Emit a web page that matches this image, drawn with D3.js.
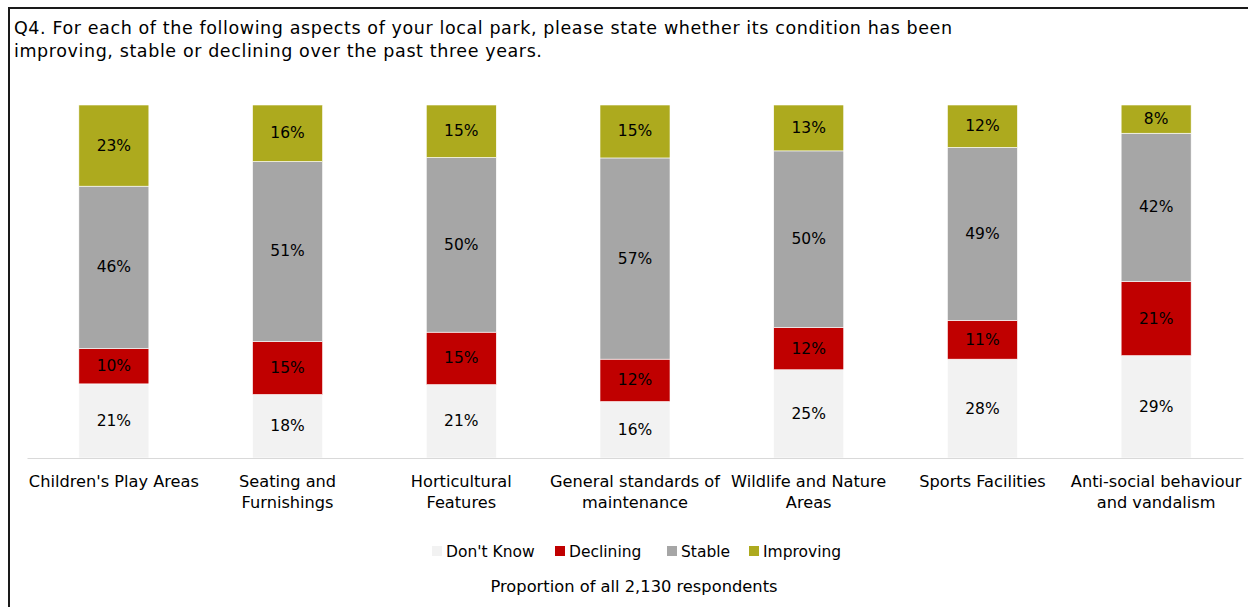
<!DOCTYPE html>
<html><head><meta charset="utf-8">
<script src="https://cdn.jsdelivr.net/npm/d3@7"></script>
<style>
html,body{margin:0;padding:0;background:#fff;}
svg{display:block;}
text{font-family:"DejaVu Sans",sans-serif;fill:#000;}
</style></head>
<body>
<svg id="chart" width="1248" height="607"></svg>
<script>
const titleLines = [
  "Q4. For each of the following aspects of your local park, please state whether its condition has been",
  "improving, stable or declining over the past three years."
];
const categories = [
  "Children's Play Areas",
  "Seating and\nFurnishings",
  "Horticultural\nFeatures",
  "General standards of\nmaintenance",
  "Wildlife and Nature\nAreas",
  "Sports Facilities",
  "Anti-social behaviour\nand vandalism"
];
const seriesNames = ["Don't Know", "Declining", "Stable", "Improving"];
const dontKnow  = [21, 18, 21, 16, 25, 28, 29];
const declining = [10, 15, 15, 12, 12, 11, 21];
const stable    = [46, 51, 50, 57, 50, 49, 42];
const improving = [23, 16, 15, 15, 13, 12, 8];
const colors = ["#f2f2f2", "#c00000", "#a6a6a6", "#adaa1e"];
const caption = "Proportion of all 2,130 respondents";

const seriesValues = [dontKnow, declining, stable, improving];
const table = categories.map((c, i) => {
  const row = {cat: c};
  seriesNames.forEach((s, j) => row[s] = seriesValues[j][i]);
  return row;
});

const svg = d3.select("#chart");
const W = 1248, H = 607;

// frame
svg.append("rect").attr("x", 9).attr("y", 8).attr("width", W + 10).attr("height", H + 10)
  .attr("fill", "none").attr("stroke", "#1a1a1a").attr("stroke-width", 2);

// title
svg.append("g").selectAll("text").data(titleLines).join("text")
  .attr("x", 14).attr("y", (d, i) => 34 + i * 23)
  .style("font-size", "17.5px").style("letter-spacing", "0.6px").text(d => d);

const x = d3.scaleBand().domain(categories).range([27, 1243]).paddingInner(0.597).paddingOuter(0.2985);
const y = d3.scaleLinear().domain([0, 1]).range([458, 105]);

const stack = d3.stack().keys(seriesNames).offset(d3.stackOffsetExpand);
const stacked = stack(table);

const layers = svg.append("g").selectAll("g").data(stacked).join("g")
  .attr("fill", (d, i) => colors[i]);

layers.selectAll("rect").data(d => d).join("rect")
  .attr("x", d => x(d.data.cat))
  .attr("width", x.bandwidth())
  .attr("y", d => y(d[1]))
  .attr("height", d => y(d[0]) - y(d[1]))
  .attr("stroke", "#ffffff").attr("stroke-width", 0.6);

// baseline axis
const xAxis = d3.axisBottom(x).tickSize(0).tickFormat("");
const axG = svg.append("g").attr("transform", "translate(0,458)").call(xAxis);
axG.select(".domain").attr("stroke", "#d9d9d9").attr("stroke-width", 1);

// value labels
stacked.forEach((layer, li) => {
  svg.append("g").selectAll("text").data(layer).join("text")
    .attr("x", d => x(d.data.cat) + x.bandwidth() / 2)
    .attr("y", d => (y(d[0]) + y(d[1])) / 2)
    .attr("text-anchor", "middle").attr("dominant-baseline", "central")
    .style("font-size", "15.5px")
    .text(d => d.data[layer.key] + "%");
});

// category labels
const catG = svg.append("g");
categories.forEach(c => {
  const lines = c.split("\n");
  const t = catG.append("text").attr("text-anchor", "middle").style("font-size", "16.2px");
  lines.forEach((ln, k) => {
    t.append("tspan").attr("x", x(c) + x.bandwidth() / 2).attr("y", 487 + k * 21).text(ln);
  });
});

// legend
const legendX = [432, 555, 667, 749];
const lg = svg.append("g").selectAll("g").data(seriesNames).join("g")
  .attr("transform", (d, i) => `translate(${legendX[i]},546)`);
lg.append("rect").attr("width", 10).attr("height", 10).attr("fill", (d, i) => colors[i]);
lg.append("text").attr("x", 14).attr("y", 11).style("font-size", "15.5px").text(d => d);

svg.append("text").attr("x", 634).attr("y", 592).attr("text-anchor", "middle")
  .style("font-size", "16.3px").text(caption);
</script>
</body></html>
